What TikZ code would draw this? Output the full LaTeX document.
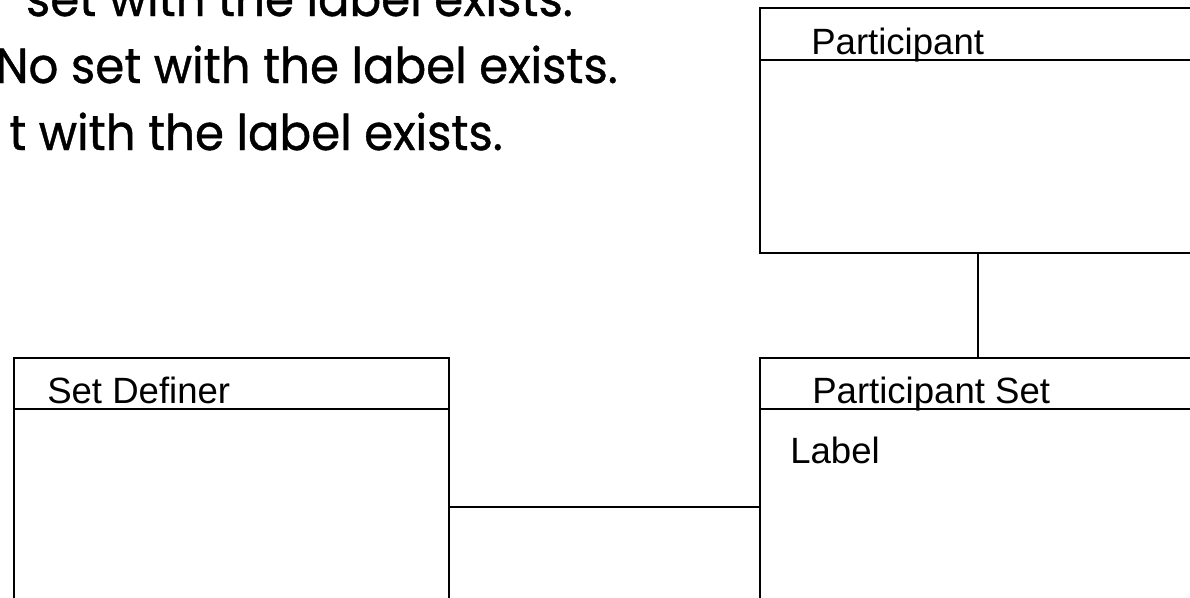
\documentclass[tikz,border=0pt]{standalone}
\usepackage{fontspec}
\setmainfont{Liberation Sans}
\newfontfamily\handfont[FakeStretch=0.95,FakeBold=0.8]{Poppins}
\usepackage{tikz}
\usetikzlibrary{positioning}
\colorlet{Ink}{black}

\begin{document}
\begin{tikzpicture}[
    x=0.025cm,y=-0.025cm,
    classbox/.style={draw=Ink,line width=1.4pt,inner sep=0pt},
    conn/.style={draw=Ink,line width=1.4pt},
    head/.style={font=\fontsize{26}{30}\selectfont,text=Ink,anchor=base west,inner sep=0pt},
    hand/.style={font=\handfont\fontsize{35}{40}\selectfont,text=Ink,anchor=base east,inner sep=0pt}
  ]
  \useasboundingbox (0,0) rectangle (1190,598);
  \clip (0,0) rectangle (1190,598);

  % the three cases, cut at the left edge
  \node[hand] (caseA) at (573,16) {set with the label exists.};
  \node[hand] (caseB) at (618,83) {No set with the label exists.};
  \node[hand] (caseC) at (503,150) {t with the label exists.};

  % class boxes
  \node[classbox,minimum width=10.9cm,minimum height=6.125cm] (part) at (978,130.5) {};
  \node[classbox,minimum width=10.9cm,minimum height=7.45cm] (pset) at (978,507) {};
  \node[classbox,minimum width=10.875cm,minimum height=7.45cm] (def) at (231.5,507) {};

  \draw[conn] (part.north west) ++(0,53) -- ++(436,0);
  \draw[conn] (pset.north west) ++(0,52) -- ++(436,0);
  \draw[conn] (def.north west) ++(0,52) -- ++(435,0);

  \node[head] (partName) at (811,54) {Participant};
  \node[head] (psetName) at (812,403) {Participant Set};
  \node[head] (psetAttr) at (790,463) {Label};
  \node[head] (defName) at (47,403) {Set Definer};

  % associations
  \draw[conn] (part.south) -- (pset.north);
  \draw[conn] (def.east) -- (pset.west);
\end{tikzpicture}
\end{document}
